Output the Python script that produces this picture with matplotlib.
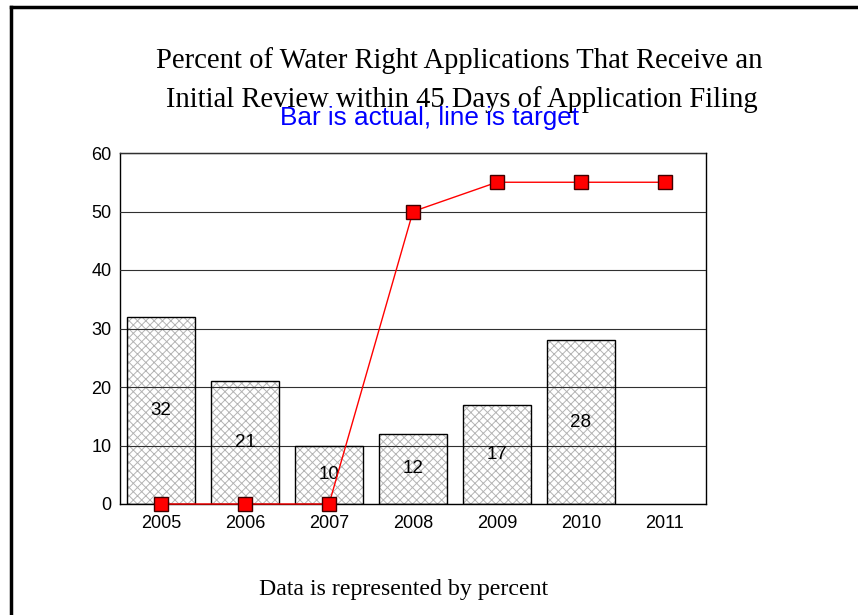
import numpy as np
import matplotlib.pyplot as plt
from matplotlib.lines import Line2D

years = ["2005", "2006", "2007", "2008", "2009", "2010", "2011"]
actual = [32, 21, 10, 12, 17, 28, None]
target = [0, 0, 0, 50, 55, 55, 55]

W, H = 858, 615
plt.rcParams["hatch.linewidth"] = 0.7
fig = plt.figure(figsize=(W / 100, H / 100), dpi=100)
fig.patch.set_facecolor("white")

# slide frame (left and top edges)
fig.add_artist(Line2D([11 / W, 11 / W], [0, 1 - 7 / H], color="black", lw=2.5))
fig.add_artist(Line2D([11 / W, 1], [1 - 7 / H, 1 - 7 / H], color="black", lw=2.5))

ax = fig.add_axes([120 / W, 1 - 504 / H, (706 - 120) / W, (504 - 153) / H])

x = np.arange(len(years))
bx = [i for i, v in enumerate(actual) if v is not None]
bv = [v for v in actual if v is not None]

ax.bar(bx, bv, width=0.81, color="white", edgecolor="#b4b4b4", hatch="xxxx",
       linewidth=0, zorder=2)
ax.bar(bx, bv, width=0.81, fill=False, edgecolor="black", linewidth=1, zorder=3)
for xi, v in zip(bx, bv):
    ax.text(xi, v / 2, str(v), ha="center", va="center", fontsize=13.5,
            family="Liberation Sans", zorder=4)

ax.plot(x, target, color="red", linewidth=1, marker="s", markersize=10,
        markerfacecolor="red", markeredgecolor="#400000", markeredgewidth=1,
        zorder=5, clip_on=False)

ax.set_xlim(-0.49, 6.49)
ax.set_ylim(0, 60)
ax.set_yticks(range(0, 61, 10))
ax.set_xticks(x)
ax.set_xticklabels(years)
# grid shows through the hatched bars, as in the original
ax.yaxis.grid(True, color="#303030", linewidth=0.8)
ax.set_axisbelow(False)
ax.tick_params(length=0, labelsize=13, pad=6)
ax.tick_params(axis="x", pad=8)
for lab in ax.get_xticklabels() + ax.get_yticklabels():
    lab.set_family("Liberation Sans")
for s in ax.spines.values():
    s.set_linewidth(1)
    s.set_color("black")

fig.text(459 / W, 1 - 61 / H, "Percent of Water Right Applications That Receive an",
         ha="center", va="center", fontsize=20.6, family="Liberation Serif")
fig.text(462 / W, 1 - 100 / H, "Initial Review within 45 Days of Application Filing",
         ha="center", va="center", fontsize=20.6, family="Liberation Serif")
fig.text(430 / W, 1 - 118 / H, "Bar is actual, line is target",
         ha="center", va="center", fontsize=18.8, color="blue", family="Liberation Sans")
fig.text(404 / W, 1 - 590 / H, "Data is represented by percent",
         ha="center", va="center", fontsize=17.2, family="Liberation Serif")

plt.savefig("out.png", dpi=100)
